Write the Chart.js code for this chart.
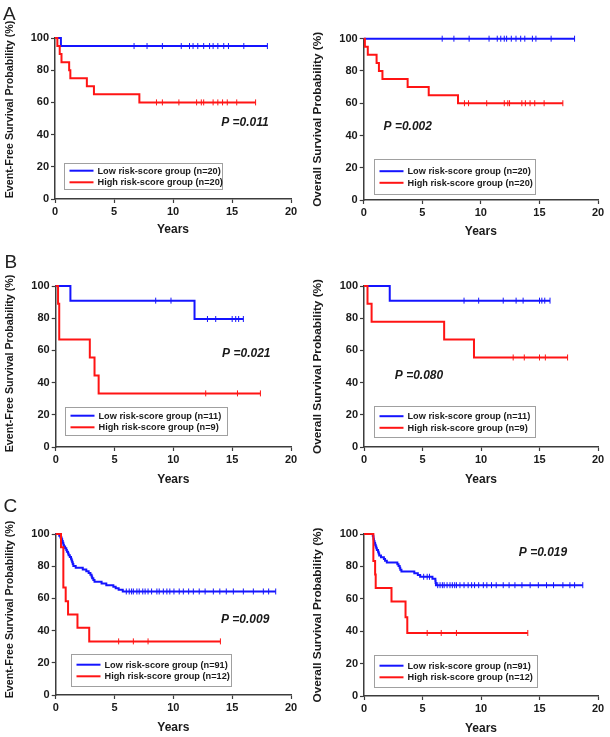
<!DOCTYPE html>
<html>
<head>
<meta charset="utf-8">
<title>Kaplan-Meier curves by risk score</title>
<script src="https://cdn.jsdelivr.net/npm/chart.js@4.4.1/dist/chart.umd.min.js"></script>
<style>
  body { margin: 0; background: #fff; font-family: "Liberation Sans", Arial, sans-serif; }
  #figure { position: relative; width: 610px; height: 737px; overflow: hidden; }
  #figure canvas { position: absolute; }
  .panel-letter { position: absolute; font-size: 19px; line-height: 19px; color: #222; }
</style>
</head>
<body>
<div id="figure">
  <canvas id="aEfs" width="305" height="240" style="left:0;top:0"></canvas>
  <canvas id="aOs" width="305" height="240" style="left:305px;top:0"></canvas>
  <canvas id="bEfs" width="305" height="245" style="left:0;top:240px"></canvas>
  <canvas id="bOs" width="305" height="245" style="left:305px;top:240px"></canvas>
  <canvas id="cEfs" width="305" height="252" style="left:0;top:485px"></canvas>
  <canvas id="cOs" width="305" height="252" style="left:305px;top:485px"></canvas>
  <div class="panel-letter" style="left:3px;top:3.5px">A</div>
  <div class="panel-letter" style="left:4.5px;top:251.5px">B</div>
  <div class="panel-letter" style="left:3.5px;top:495.5px">C</div>
</div>

<script>
// Axis ticks (years / %)
const xTicks = [0, 5, 10, 15, 20];
const yTicks = [0, 20, 40, 60, 80, 100];

// Group names and sizes per cohort
const groupNames = ['Low risk-score group', 'High risk-score group'];
const aGroupN = [20, 20];
const bGroupN = [11, 9];
const cGroupN = [91, 12];

// Log-rank p values: A EFS, A OS, B EFS, B OS, C EFS, C OS
const pValues = ['0.011', '0.002', '0.021', '0.080', '0.009', '0.019'];

// --- Cohort A, event-free survival ---
const aEfsLowTimes = [0, 0.5];
const aEfsLowSurv = [100, 95];
const aEfsLowCensor = [6.7, 7.8, 9.1, 10.7, 11.4, 11.7, 12.1, 12.6, 13.1, 13.4, 13.8, 14.3, 14.7, 16.0, 18.0];
const aEfsHighTimes = [0, 0.2, 0.4, 0.55, 1.2, 1.3, 2.7, 3.3, 7.15];
const aEfsHighSurv = [100, 95, 90, 85, 80, 75, 70, 65, 60];
const aEfsHighCensor = [8.6, 9.1, 10.5, 12.0, 12.4, 12.6, 13.4, 13.8, 14.2, 14.6, 15.4, 17.0];

// --- Cohort A, overall survival ---
const aOsLowTimes = [0];
const aOsLowSurv = [100];
const aOsLowCensor = [6.7, 7.7, 9.0, 10.7, 11.4, 11.7, 12.0, 12.2, 12.6, 13.0, 13.4, 13.75, 14.4, 14.7, 16.0, 18.0];
const aOsHighTimes = [0, 0.1, 0.35, 1.1, 1.3, 1.6, 3.75, 5.55, 8.05];
const aOsHighSurv = [100, 95, 90, 85, 80, 75, 70, 65, 60];
const aOsHighCensor = [8.6, 8.95, 10.5, 12.0, 12.3, 12.45, 13.5, 13.8, 14.2, 14.6, 15.4, 17.0];

// --- Cohort B, event-free survival ---
const bEfsLowTimes = [0, 1.25, 11.8];
const bEfsLowSurv = [100, 90.9, 79.5];
const bEfsLowCensor = [8.5, 9.8, 12.9, 13.6, 15.0, 15.3, 15.55, 15.95];
const bEfsHighTimes = [0, 0.2, 0.3, 0.3, 2.9, 3.3, 3.65];
const bEfsHighSurv = [100, 88.9, 77.8, 66.7, 55.6, 44.4, 33.3];
const bEfsHighCensor = [12.75, 15.45, 17.4];

// --- Cohort B, overall survival ---
const bOsLowTimes = [0, 2.2];
const bOsLowSurv = [100, 90.9];
const bOsLowCensor = [8.55, 9.8, 11.9, 13.0, 13.6, 15.0, 15.2, 15.45, 15.9];
const bOsHighTimes = [0, 0.3, 0.65, 6.85, 9.4];
const bOsHighSurv = [100, 88.9, 77.8, 66.7, 55.6];
const bOsHighCensor = [12.75, 13.7, 15.0, 15.5, 17.4];

// --- Cohort C, event-free survival ---
const cEfsLowTimes = [0, 0.3, 0.4, 0.5, 0.55, 0.6, 0.65, 0.7, 0.8, 0.9, 0.95, 1.05, 1.1, 1.2, 1.3, 1.35, 1.4, 1.45, 1.5, 1.7,
  2.3, 2.6, 2.8, 2.95, 3.05, 3.1, 3.2, 3.3, 3.9, 4.3, 4.9, 5.1, 5.35, 5.7];
const cEfsLowSurv = [100, 98.9, 97.8, 96.7, 95.6, 94.5, 93.4, 92.3, 91.2, 90.1, 89.0, 87.9, 86.8, 85.7, 84.6, 83.5, 82.4, 81.3, 80.2, 79.1,
  78.0, 76.9, 75.8, 74.7, 73.6, 72.5, 71.4, 70.3, 69.2, 68.2, 67.3, 66.3, 65.3, 64.3];
const cEfsLowCensor = [6.0, 6.25, 6.45, 6.6, 6.9, 7.1, 7.4, 7.6, 7.85, 8.15, 8.6, 8.8, 9.15, 9.45, 9.7, 10.05, 10.5, 10.85,
  11.3, 11.7, 12.2, 12.7, 13.4, 13.95, 14.5, 15.1, 15.95, 16.8, 17.65, 18.1, 18.7];
const cEfsHighTimes = [0, 0.45, 0.65, 0.65, 0.65, 0.85, 1.05, 1.85, 2.85];
const cEfsHighSurv = [100, 91.7, 83.3, 75.0, 66.7, 58.3, 50.0, 41.7, 33.3];
const cEfsHighCensor = [5.35, 6.6, 7.85, 14.0];

// --- Cohort C, overall survival ---
const cOsLowTimes = [0, 0.75, 0.8, 0.82, 0.85, 0.9, 0.95, 1.0, 1.05, 1.1, 1.2, 1.25, 1.3, 1.45, 1.7, 1.8, 1.95,
  2.85, 2.95, 3.05, 3.1, 3.2, 4.3, 4.6, 4.8, 5.85, 6.1, 6.12, 6.15];
const cOsLowSurv = [100, 98.9, 97.8, 96.7, 95.6, 94.5, 93.4, 92.3, 91.2, 90.1, 89.0, 87.9, 86.8, 85.7, 84.6, 83.5, 82.4,
  81.3, 80.2, 79.1, 78.0, 76.9, 75.8, 74.7, 73.6, 72.4, 71.1, 69.8, 68.4];
const cOsLowCensor = [5.1, 5.4, 5.6, 6.3, 6.5, 6.7, 6.85, 7.1, 7.35, 7.55, 7.75, 7.9, 8.2, 8.55, 8.9, 9.2, 9.45, 9.8,
  10.2, 10.5, 10.9, 11.3, 11.9, 12.4, 12.9, 13.5, 14.2, 14.9, 15.6, 16.2, 17.0, 17.6, 18.0, 18.7];
const cOsHighTimes = [0, 0.8, 0.8, 0.95, 1.0, 2.35, 3.55, 3.7];
const cOsHighSurv = [100, 91.7, 83.3, 75.0, 66.7, 58.3, 48.6, 38.9];
const cOsHighCensor = [5.4, 6.6, 7.9, 14.0];

const lowColor = '#1414ff';
const highColor = '#ff1414';
const textColor = '#1a1a1a';
const axisColor = '#3c3c3c';
const fontFamily = '"Liberation Sans", Arial, sans-serif';

// KM estimate at time t (step function)
function survAt(times, surv, t) {
    let s = surv[0];
    for (let i = 0; i < times.length; i++) {
        if (times[i] <= t) s = surv[i];
    }
    return s;
}

function curvePoints(times, surv, censor) {
    const pts = times.map((t, i) => ({ x: t, y: surv[i] }));
    pts.push({ x: Math.max(...censor), y: surv[surv.length - 1] });
    return pts;
}

function censorPoints(times, surv, censor) {
    return censor.map(t => ({ x: t, y: survAt(times, surv, t) }));
}

// Draws y title, p value and boxed legend inside the plot
const kmExtras = {
    id: 'kmExtras',
    afterDraw(chart, args, opts) {
        const { ctx, chartArea, scales } = chart;
        const x = scales.x, y = scales.y;

        // y axis title
        ctx.save();
        ctx.fillStyle = textColor;
        ctx.font = 'bold ' + opts.yTitleSize + 'px ' + fontFamily;
        ctx.textAlign = 'center';
        ctx.textBaseline = 'middle';
        ctx.translate(opts.yTitleX, (chartArea.top + chartArea.bottom) / 2 + opts.yTitleShift);
        ctx.rotate(-Math.PI / 2);
        ctx.fillText(opts.yTitle, 0, 0);
        ctx.restore();

        // p value
        ctx.save();
        ctx.fillStyle = textColor;
        ctx.font = 'italic bold 12px ' + fontFamily;
        ctx.textAlign = 'center';
        ctx.textBaseline = 'middle';
        ctx.fillText('P =' + opts.p, x.getPixelForValue(opts.pAt[0]), y.getPixelForValue(opts.pAt[1]));
        ctx.restore();

        // legend box
        const bx0 = Math.round(x.getPixelForValue(opts.legendBox[0])) + 0.5;
        const bx1 = Math.round(x.getPixelForValue(opts.legendBox[1])) + 0.5;
        const by0 = Math.round(y.getPixelForValue(opts.legendBox[2])) + 0.5;
        const by1 = Math.round(y.getPixelForValue(opts.legendBox[3])) + 0.5;
        ctx.save();
        ctx.fillStyle = '#fff';
        ctx.fillRect(bx0, by0, bx1 - bx0, by1 - by0);
        ctx.strokeStyle = '#a0a0a0';
        ctx.lineWidth = 1;
        ctx.strokeRect(bx0, by0, bx1 - bx0, by1 - by0);
        const cy = (by0 + by1) / 2;
        const rows = [cy - 5.8, cy + 5.8];
        const colors = [lowColor, highColor];
        ctx.font = 'bold 9.2px ' + fontFamily;
        ctx.textBaseline = 'middle';
        ctx.textAlign = 'left';
        rows.forEach((ry, i) => {
            ctx.strokeStyle = colors[i];
            ctx.lineWidth = 2;
            ctx.beginPath();
            ctx.moveTo(bx0 + 5, ry);
            ctx.lineTo(bx0 + 29, ry);
            ctx.stroke();
            ctx.fillStyle = textColor;
            ctx.fillText(groupNames[i] + ' (n=' + opts.groupN[i] + ')', bx0 + 33, ry + 0.5);
        });
        ctx.restore();
    }
};

function makePanel(cfg) {
    const canvas = document.getElementById(cfg.id);
    const W = canvas.width, H = canvas.height;
    const xh = cfg.xTitleGap + 7.2;
    const tickFont = { family: fontFamily, size: 11, weight: 'bold' };

    new Chart(canvas, {
        type: 'line',
        data: {
            datasets: [
                {
                    data: curvePoints(cfg.high.times, cfg.high.surv, cfg.high.censor),
                    borderColor: highColor, borderWidth: 2, stepped: 'before',
                    pointRadius: 0, fill: false, clip: false
                },
                {
                    data: censorPoints(cfg.high.times, cfg.high.surv, cfg.high.censor),
                    showLine: false, pointStyle: 'line', rotation: 90, pointRadius: 3,
                    borderColor: highColor, pointBorderWidth: 1, clip: false
                },
                {
                    data: curvePoints(cfg.low.times, cfg.low.surv, cfg.low.censor),
                    borderColor: lowColor, borderWidth: 2, stepped: 'before',
                    pointRadius: 0, fill: false, clip: false
                },
                {
                    data: censorPoints(cfg.low.times, cfg.low.surv, cfg.low.censor),
                    showLine: false, pointStyle: 'line', rotation: 90, pointRadius: 3,
                    borderColor: lowColor, pointBorderWidth: 1, clip: false
                }
            ]
        },
        options: {
            responsive: false,
            animation: false,
            events: [],
            layout: {
                padding: { left: 0, top: cfg.area.top, right: W - cfg.area.right, bottom: H - cfg.area.bottom - xh }
            },
            plugins: {
                legend: { display: false },
                tooltip: { enabled: false },
                kmExtras: {
                    yTitle: cfg.yTitle, yTitleX: cfg.yTitleX, yTitleShift: cfg.yTitleShift, yTitleSize: cfg.yTitleSize,
                    p: cfg.p, pAt: cfg.pAt, legendBox: cfg.legendBox, groupN: cfg.groupN
                }
            },
            scales: {
                x: {
                    type: 'linear', min: xTicks[0], max: xTicks[xTicks.length - 1],
                    afterFit: s => { s.height = xh; },
                    afterBuildTicks: s => { s.ticks = xTicks.map(v => ({ value: v })); },
                    ticks: { color: textColor, font: tickFont, padding: 2, maxRotation: 0 },
                    grid: { drawOnChartArea: false, tickLength: 4, color: axisColor, tickWidth: 1.2 },
                    border: { color: axisColor, width: 1.5 },
                    title: {
                        display: true, text: 'Years', color: textColor,
                        font: { family: fontFamily, size: 12, weight: 'bold' }, padding: 0
                    }
                },
                y: {
                    type: 'linear', min: yTicks[0], max: yTicks[yTicks.length - 1],
                    afterFit: s => { s.width = cfg.area.left; },
                    afterBuildTicks: s => { s.ticks = yTicks.map(v => ({ value: v })); },
                    ticks: { color: textColor, font: tickFont, padding: 2 },
                    grid: { drawOnChartArea: false, tickLength: 4, color: axisColor, tickWidth: 1.2 },
                    border: { color: axisColor, width: 1.5 }
                }
            }
        },
        plugins: [kmExtras]
    });
}

const efsTitle = 'Event-Free Survival Probability (%)';
const osTitle = 'Overall Survival Probability (%)';

makePanel({
    id: 'aEfs', area: { left: 55, top: 38, right: 291, bottom: 199 }, xTitleGap: 31,
    yTitle: efsTitle, yTitleX: 10, yTitleShift: -9, yTitleSize: 10.7,
    low: { times: aEfsLowTimes, surv: aEfsLowSurv, censor: aEfsLowCensor },
    high: { times: aEfsHighTimes, surv: aEfsHighSurv, censor: aEfsHighCensor },
    groupN: aGroupN, p: pValues[0], pAt: [16.1, 47.2], legendBox: [0.79, 14.18, 22.2, 6.2]
});
makePanel({
    id: 'aOs', area: { left: 58.7, top: 38.7, right: 293, bottom: 200 }, xTitleGap: 31.5,
    yTitle: osTitle, yTitleX: 12.3, yTitleShift: 0, yTitleSize: 11.8,
    low: { times: aOsLowTimes, surv: aOsLowSurv, censor: aOsLowCensor },
    high: { times: aOsHighTimes, surv: aOsHighSurv, censor: aOsHighCensor },
    groupN: aGroupN, p: pValues[1], pAt: [3.76, 45.3], legendBox: [0.9, 14.6, 25.6, 3.7]
});
makePanel({
    id: 'bEfs', area: { left: 55.7, top: 46, right: 291, bottom: 207 }, xTitleGap: 32.3,
    yTitle: efsTitle, yTitleX: 10, yTitleShift: -3, yTitleSize: 10.7,
    low: { times: bEfsLowTimes, surv: bEfsLowSurv, censor: bEfsLowCensor },
    high: { times: bEfsHighTimes, surv: bEfsHighSurv, censor: bEfsHighCensor },
    groupN: bGroupN, p: pValues[2], pAt: [16.2, 57.8], legendBox: [0.79, 14.6, 25, 7.5]
});
makePanel({
    id: 'bOs', area: { left: 59, top: 46, right: 293, bottom: 207 }, xTitleGap: 32.3,
    yTitle: osTitle, yTitleX: 12.3, yTitleShift: 0, yTitleSize: 11.8,
    low: { times: bOsLowTimes, surv: bOsLowSurv, censor: bOsLowCensor },
    high: { times: bOsHighTimes, surv: bOsHighSurv, censor: bOsHighCensor },
    groupN: bGroupN, p: pValues[3], pAt: [4.7, 44], legendBox: [0.88, 14.6, 25.6, 6.4]
});
makePanel({
    id: 'cEfs', area: { left: 55.7, top: 49, right: 291, bottom: 210 }, xTitleGap: 32.7,
    yTitle: efsTitle, yTitleX: 10, yTitleShift: -5, yTitleSize: 10.7,
    low: { times: cEfsLowTimes, surv: cEfsLowSurv, censor: cEfsLowCensor },
    high: { times: cEfsHighTimes, surv: cEfsHighSurv, censor: cEfsHighCensor },
    groupN: cGroupN, p: pValues[4], pAt: [16.1, 46.6], legendBox: [1.3, 14.9, 25.3, 5.6]
});
makePanel({
    id: 'cOs', area: { left: 59, top: 49, right: 293, bottom: 211 }, xTitleGap: 32.7,
    yTitle: osTitle, yTitleX: 12.3, yTitleShift: 0, yTitleSize: 11.8,
    low: { times: cOsLowTimes, surv: cOsLowSurv, censor: cOsLowCensor },
    high: { times: cOsHighTimes, surv: cOsHighSurv, censor: cOsHighCensor },
    groupN: cGroupN, p: pValues[5], pAt: [15.3, 88.2], legendBox: [0.88, 14.8, 25.5, 5.4]
});
</script>
</body>
</html>
